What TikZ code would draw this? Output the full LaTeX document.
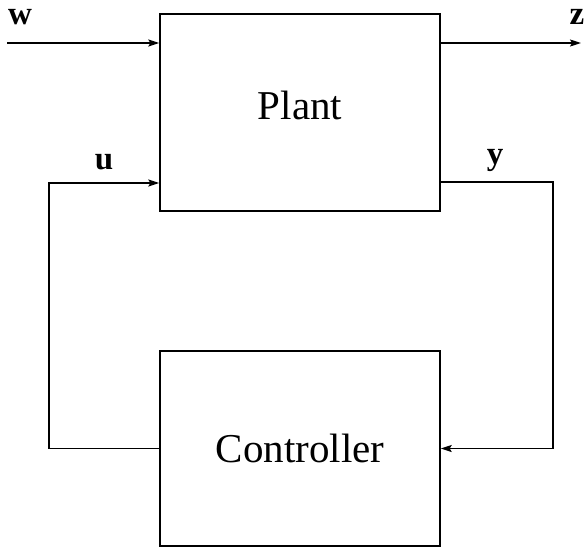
\documentclass[tikz,border=0pt]{standalone}
\usepackage{fontspec}
\setmainfont{Liberation Serif}
\usetikzlibrary{arrows.meta}
\tikzset{
  blk/.style  = {rectangle, draw, line width=1.4pt, minimum width=280pt, font=\fontsize{41}{45}\selectfont},
  sig/.style  = {line width=1.4pt, -{Stealth[length=11pt, width=7pt, inset=2pt]}},
  lab/.style  = {font=\fontsize{33}{35}\selectfont\bfseries, inner sep=0pt}
}
\begin{document}
\begin{tikzpicture}[x=1pt, y=-1pt]
  \useasboundingbox (0,0) rectangle (585,548);

  % blocchi
  \node[blk, minimum height=197pt, text depth=14pt] (plant) at (300,112.5) {Plant};
  \node[blk, minimum height=195pt] (ctrl)  at (300,448.5) {Controller};

  % ingressi / uscite esterne
  \coordinate (win)  at (7,43);
  \coordinate (zout) at (581,43);
  \draw[sig] (win) -- (plant.west |- win);
  \draw[sig] (plant.east |- zout) -- (zout);
  \node[lab] (w) at (20,17) {w};
  \node[lab] (z) at (577,17) {z};

  % anello di retroazione
  \coordinate (ul) at (49,183);
  \coordinate (yr) at (553,182);
  \draw[sig] (ctrl.west) -| (ul) -- (plant.west |- ul);
  \draw[sig] (plant.east |- yr) -- (yr) |- (ctrl.east);
  \node[lab] (u) at (104,162) {u};
  \node[lab] (y) at (495,160) {y};

\end{tikzpicture}
\end{document}
